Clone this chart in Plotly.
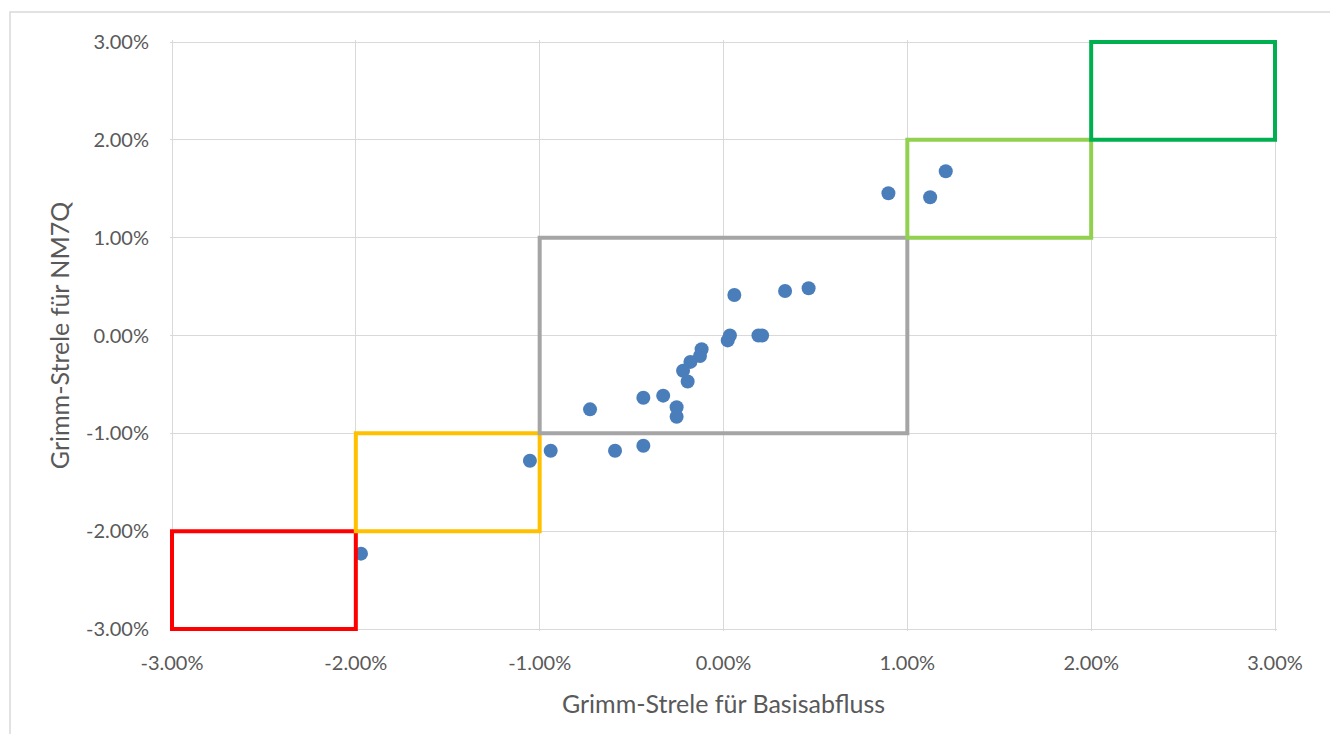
import plotly.graph_objects as go

# Data (percent)
basisabfluss = [0.059, 0.335, 0.463, 0.035, 0.023, 0.19, 0.21, -0.119, -0.128, -0.18, -0.22, -0.195,
                -0.436, -0.328, -0.726, -0.255, -0.255, -0.436, -0.59, -0.94, -1.053, -1.972,
                0.897, 1.124, 1.209]
nm7q = [0.414, 0.455, 0.483, 0.0, -0.05, 0.0, 0.0, -0.14, -0.21, -0.27, -0.36, -0.47,
        -0.636, -0.615, -0.755, -0.734, -0.83, -1.127, -1.178, -1.178, -1.28, -2.23,
        1.454, 1.413, 1.679]

# Class boxes
box_x0 = [-3, -2, -1, 1, 2]
box_x1 = [-2, -1, 1, 2, 3]
box_y0 = [-3, -2, -1, 1, 2]
box_y1 = [-2, -1, 1, 2, 3]
box_colors = ["#FF0000", "#FFC000", "#A5A5A5", "#92D050", "#00B050"]

ticks = [-3, -2, -1, 0, 1, 2, 3]
tick_labels = ["-3.00%", "-2.00%", "-1.00%", "0.00%", "1.00%", "2.00%", "3.00%"]

fig = go.Figure()
fig.add_trace(go.Scatter(
    x=basisabfluss, y=nm7q, mode="markers",
    marker=dict(size=14, color="#4A7EBB"),
    showlegend=False,
))

# page has an 8px body margin; figure placed at (8, 8)
OFF = 8
FW, FH = 1338 - 2 * OFF, 742 - 2 * OFF
PAD = 2  # px of padding so edge box lines are not clipped
L, R, T, B = 172 - OFF - PAD, 1275 - OFF + PAD, 42 - OFF - PAD, 629 - OFF + PAD
W, H = R - L, B - T
xpad = PAD / ((W - 2 * PAD) / 6)
ypad = PAD / ((H - 2 * PAD) / 6)

shapes = []
for x0, x1, y0, y1, c in zip(box_x0, box_x1, box_y0, box_y1, box_colors):
    shapes.append(dict(type="rect", xref="x", yref="y", x0=x0, x1=x1, y0=y0, y1=y1,
                       line=dict(color=c, width=4), fillcolor="rgba(0,0,0,0)", layer="above"))
# outer chart border
shapes.append(dict(type="rect", xref="paper", yref="paper",
                   x0=(10 - OFF - L) / W, x1=(1334 - OFF - L) / W,
                   y0=(B - (745 - OFF)) / H, y1=(B - (12 - OFF)) / H,
                   line=dict(color="#D9D9D9", width=1.5), layer="below"))

font_color = "#595959"
fig.update_layout(
    width=FW, height=FH,
    margin=dict(l=L, r=FW - R, t=T, b=FH - B),
    paper_bgcolor="white", plot_bgcolor="white",
    font=dict(family="Lato, Open Sans, sans-serif", color=font_color, size=20),
    shapes=shapes,
    xaxis=dict(range=[-3 - xpad, 3 + xpad], tickvals=ticks, ticktext=tick_labels,
               showgrid=True, gridcolor="#D9D9D9", gridwidth=1, zeroline=False,
               showline=False, ticks="", ticklabelstandoff=18,
               title=dict(text="Grimm-Strele für Basisabfluss", font=dict(size=25, color=font_color), standoff=22)),
    yaxis=dict(range=[-3 - ypad, 3 + ypad], tickvals=ticks, ticktext=tick_labels,
               showgrid=True, gridcolor="#D9D9D9", gridwidth=1, zeroline=False,
               showline=False, ticks="", ticklabelstandoff=20,
               title=dict(text="Grimm-Strele für NM7Q", font=dict(size=25, color=font_color), standoff=9)),
)

fig.write_html("out.html")
